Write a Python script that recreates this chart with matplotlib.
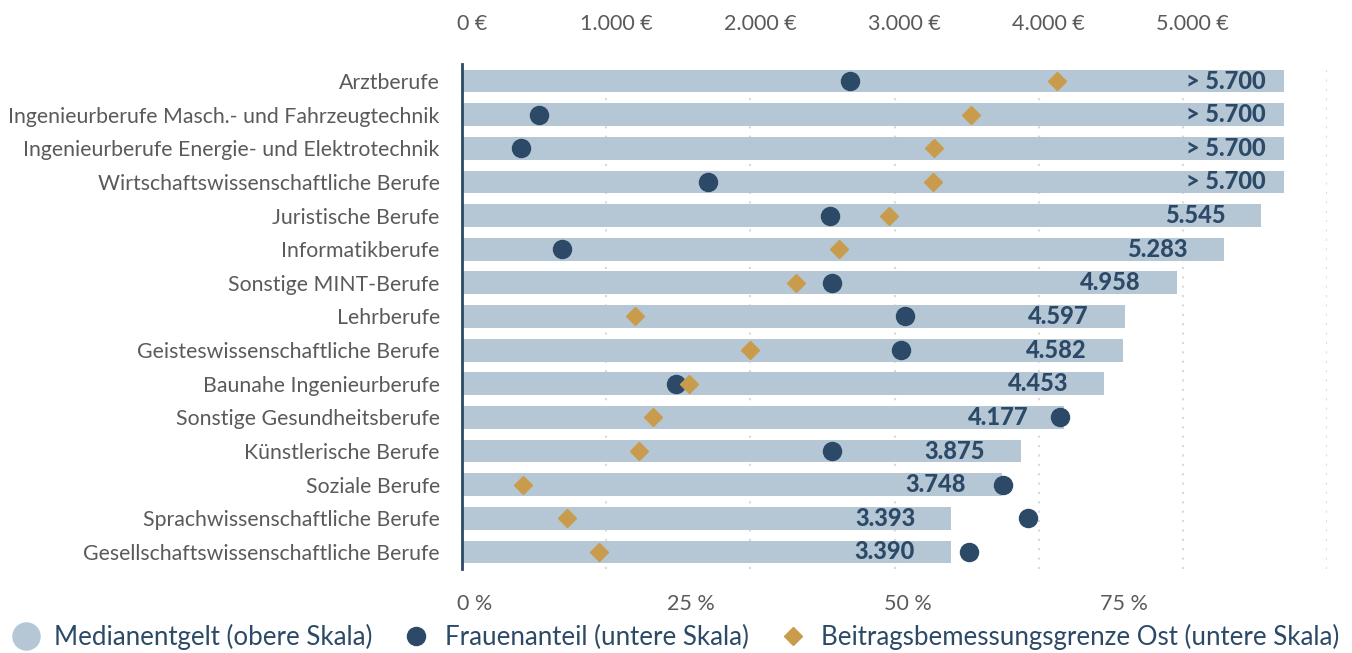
import matplotlib
matplotlib.use('Agg')
import matplotlib.pyplot as plt
import matplotlib.transforms as mtransforms
from matplotlib.lines import Line2D

# Daten
berufe = ['Arztberufe',
          'Ingenieurberufe Masch.- und Fahrzeugtechnik',
          'Ingenieurberufe Energie- und Elektrotechnik',
          'Wirtschaftswissenschaftliche Berufe',
          'Juristische Berufe',
          'Informatikberufe',
          'Sonstige MINT-Berufe',
          'Lehrberufe',
          'Geisteswissenschaftliche Berufe',
          'Baunahe Ingenieurberufe',
          'Sonstige Gesundheitsberufe',
          'Künstlerische Berufe',
          'Soziale Berufe',
          'Sprachwissenschaftliche Berufe',
          'Gesellschaftswissenschaftliche Berufe']
entgelt = [5700, 5700, 5700, 5700, 5545, 5283, 4958, 4597, 4582, 4453, 4177, 3875, 3748, 3393, 3390]
entgelt_text = ['> 5.700', '> 5.700', '> 5.700', '> 5.700', '5.545', '5.283', '4.958', '4.597',
                '4.582', '4.453', '4.177', '3.875', '3.748', '3.393', '3.390']
frauen = [44.9, 8.9, 6.8, 28.4, 42.6, 11.6, 42.8, 51.2, 50.7, 24.7, 69.1, 42.8, 62.5, 65.4, 58.6]
bbg_ost = [68.8, 58.8, 54.6, 54.4, 49.4, 43.6, 38.6, 20.0, 33.3, 26.3, 22.1, 20.5, 7.1, 12.1, 15.8]

euro_ticks = [0, 1000, 2000, 3000, 4000, 5000]
euro_labels = ['0 €', '1.000 €', '2.000 €', '3.000 €', '4.000 €', '5.000 €']
proz_ticks = [0, 25, 50, 75]
proz_labels = ['0 %', '25 %', '50 %', '75 %']

bar_col = '#b5c7d5'
navy = '#2c4a67'
gold = '#c99b4d'
grau = '#5a5a5a'

plt.rcParams['font.family'] = ['Lato', 'DejaVu Sans']

fig = plt.figure(figsize=(13.52, 6.53), dpi=100)
ax = fig.add_axes([462/1352, 1-568.8/653, 865/1352, 504.6/653])

y = list(range(len(berufe)))
ax.barh(y, entgelt, height=0.68, color=bar_col, zorder=2)
ax.set_ylim(len(berufe)-0.5, -0.5)
ax.set_xlim(0, 6000)

for xv in range(1000, 6001, 1000):
    ax.axvline(xv, color='#d9d9d9', lw=1.5, linestyle=(0, (1, 3.5)), zorder=1)

for i, t in enumerate(entgelt_text):
    off = -18 if t.startswith('>') else -36
    ax.annotate(t, (entgelt[i], i), xytext=(off * 0.72, 0), textcoords='offset points',
                ha='right', va='center', fontsize=17, fontweight='black', color=navy, zorder=4)

ax.set_yticks(y)
ax.set_yticklabels(berufe, fontsize=15.3, color=grau)
ax.tick_params(axis='y', length=0, pad=16)

for s in ['top', 'right', 'bottom']:
    ax.spines[s].set_visible(False)
ax.spines['left'].set_color(navy)
ax.spines['left'].set_linewidth(2)
ax.spines['left'].set_zorder(5)

# untere Skala (Prozent)
ax2 = ax.twiny()
ax2.set_xlim(0, 100)
ax2.set_xticks(proz_ticks, proz_labels)
ax2.tick_params(axis='x', length=0, pad=18, labelsize=15.5, labelcolor=grau,
                top=False, labeltop=False, bottom=True, labelbottom=True)
shift2 = mtransforms.ScaledTranslation(13/100, 0, fig.dpi_scale_trans)
for t in ax2.xaxis.get_major_ticks():
    t.label1.set_transform(t.label1.get_transform() + shift2)
for s in ax2.spines.values():
    s.set_visible(False)

# obere Skala (Euro)
ax.set_xticks(euro_ticks, euro_labels)
ax.tick_params(axis='x', length=0, pad=22, labelsize=15.5, labelcolor=grau,
               top=True, labeltop=True, bottom=False, labelbottom=False)
shift = mtransforms.ScaledTranslation(10/100, 0, fig.dpi_scale_trans)
for t in ax.xaxis.get_major_ticks():
    t.label2.set_transform(t.label2.get_transform() + shift)

ax2.plot(frauen, y, 'o', color=navy, markersize=13, linestyle='none', zorder=6)
ax2.plot(bbg_ost, y, 'D', color=gold, markersize=8.7, linestyle='none', zorder=6)

handles = [Line2D([], [], marker='o', color=bar_col, linestyle='none', markersize=19.5),
           Line2D([], [], marker='o', color=navy, linestyle='none', markersize=13),
           Line2D([], [], marker='D', color=gold, linestyle='none', markersize=8.7)]
labels = ['Medianentgelt (obere Skala)', 'Frauenanteil (untere Skala)',
          'Beitragsbemessungsgrenze Ost (untere Skala)']
fig.legend(handles, labels, loc='center', bbox_to_anchor=(0.5, 1-637/653), ncol=3,
           frameon=False, fontsize=18.6, labelcolor=navy, handletextpad=0.6,
           columnspacing=1.2, handlelength=1.0)

fig.savefig('out.png', dpi=100)
